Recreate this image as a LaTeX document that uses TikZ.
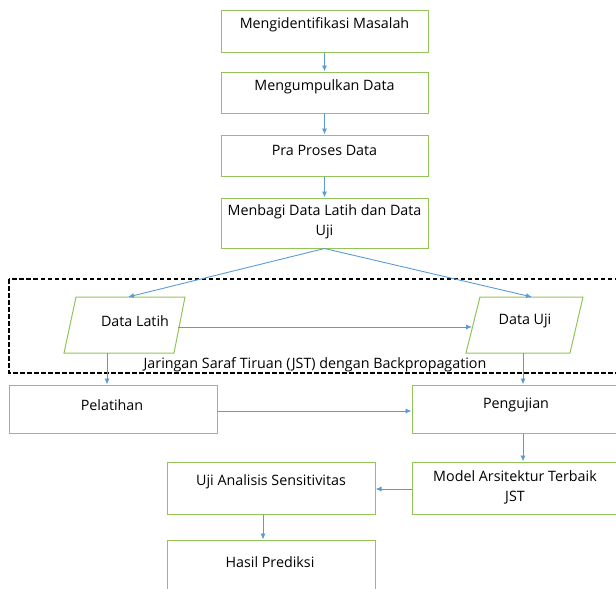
\documentclass[tikz,border=0pt]{standalone}
\usepackage{fontspec}
\setmainfont{Open Sans}
\usetikzlibrary{arrows.meta}
\definecolor{boxgreen}{RGB}{146,196,90}
\definecolor{flowblue}{RGB}{91,155,213}
\tikzset{
  stepbox/.style={draw=boxgreen,line width=1pt,rectangle,inner sep=0pt},
  dataline/.style={draw=boxgreen,line width=1pt,line join=miter},
  txt/.style={font=\fontsize{14.3}{20}\selectfont,align=center,inner sep=0pt},
  flow/.style={draw=flowblue,line width=0.9pt,-{Latex[length=6pt,width=5pt]}},
}
\begin{document}
\begin{tikzpicture}[x=1pt,y=-1pt]
\useasboundingbox (0,0) rectangle (616,589);
\clip (0,0) rectangle (616,589);

% main steps
\node[stepbox,minimum width=207pt,minimum height=42pt] (b1) at (324.5,31) {};
\node[stepbox,minimum width=207pt,minimum height=41pt] (b2) at (324.5,92.5) {};
\node[stepbox,minimum width=207pt,minimum height=41pt] (b3) at (324.5,155.5) {};
\node[stepbox,minimum width=207pt,minimum height=50pt] (b4) at (324.5,223) {};
\node[txt] (t1) at (324.5,25) {Mengidentifikasi Masalah};
\node[txt] (t2) at (324.5,87) {Mengumpulkan Data};
\node[txt] (t3) at (324.5,150) {Pra Proses Data};
\node[txt] (t4) at (324.5,222) {Menbagi Data Latih dan Data\\Uji};

% neural network group
\draw[black,line width=1.3pt,dash pattern=on 4.5pt off 2.5pt] (9,279) rectangle (640,373);
\node[txt] (jst) at (315,365) {Jaringan Saraf Tiruan (JST) dengan Backpropagation};

% data sets (parallelograms)
\coordinate (dlTL) at (76,297);  \coordinate (dlTR) at (185,297);
\coordinate (dlBR) at (174,353); \coordinate (dlBL) at (64,353);
\coordinate (duTL) at (480,297); \coordinate (duTR) at (583,297);
\coordinate (duBR) at (570,353); \coordinate (duBL) at (466,353);
\draw[dataline] (dlTL) -- (dlTR) -- (dlBR) -- (dlBL) -- cycle;
\draw[dataline] (duTL) -- (duTR) -- (duBR) -- (duBL) -- cycle;
\node[txt] (tdl) at (135,321) {Data Latih};
\node[txt] (tdu) at (525,321) {Data Uji};
\coordinate (dlIn) at (128,297);
\coordinate (duIn) at (532,297);
\coordinate (dlOut) at (178,327);
\coordinate (duIn2) at (472,327);
\coordinate (dlDown) at (107,353);
\coordinate (duDown) at (523,353);

% training / testing
\node[stepbox,minimum width=208pt,minimum height=48pt] (pel) at (113,409) {};
\node[stepbox,minimum width=210pt,minimum height=48pt] (pen) at (517,409) {};
\node[txt] (tpel) at (112,405) {Pelatihan};
\node[txt] (tpen) at (516,405) {Pengujian};

\node[stepbox,minimum width=210pt,minimum height=52pt] (mod) at (517,488) {};
\node[txt] (tmod) at (515,487) {Model Arsitektur Terbaik\\JST};
\node[stepbox,minimum width=208pt,minimum height=52pt] (uji) at (271,488) {};
\node[txt] (tuji) at (271,482) {Uji Analisis Sensitivitas};
\node[stepbox,minimum width=208pt,minimum height=52pt] (has) at (271,566) {};
\node[txt] (thas) at (270,562) {Hasil Prediksi};

% connectors
\draw[flow] (b1) -- (b2);
\draw[flow] (b2) -- (b3);
\draw[flow] (b3) -- (b4);
\draw[flow] (b4.south) -- (dlIn);
\draw[flow] (b4.south) -- (duIn);
\draw[flow] (dlOut) -- (duIn2);
\draw[flow] (dlDown) -- (dlDown |- pel.north);
\draw[flow] (duDown) -- (duDown |- pen.north);
\draw[flow] ([yshift=-2pt]pel.east) -- ([yshift=-2pt]pen.west);
\draw[flow] ([xshift=6pt]pen.south) -- ([xshift=6pt]mod.north);
\draw[flow] ([yshift=-1pt]mod.west) -- ([yshift=-1pt]uji.east);
\draw[flow] ([xshift=-8pt]uji.south) -- ([xshift=-8pt]has.north);
\end{tikzpicture}
\end{document}
